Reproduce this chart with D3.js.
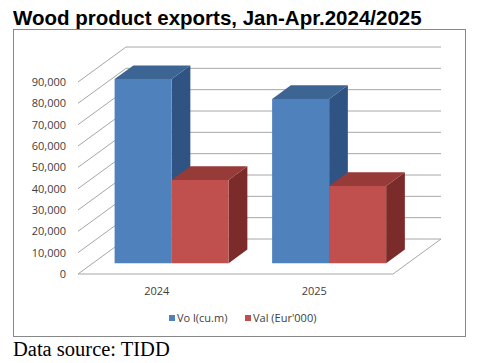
<!DOCTYPE html>
<html>
<head>
<meta charset="utf-8">
<script src="https://cdn.jsdelivr.net/npm/d3@7"></script>
<style>
  body { margin: 0; background: #fff; }
  svg { display: block; }
</style>
</head>
<body>
<div id="chart"></div>
<script>
const years = ['2024', '2025'];
const seriesNames = ['Vo l(cu.m)', "Val (Eur'000)"];
const volume = [86300, 77000];
const value = [39000, 36200];
const yTicks = [0, 10000, 20000, 30000, 40000, 50000, 60000, 70000, 80000, 90000];

const size = { width: 478, height: 363 };

// front plane of the floor, and the depth offset of the back wall
const plot = { left: 78, right: 393, top: 82, bottom: 274 };
const depth = { dx: 48, dy: -35 };
const barZ = [0.31, 0.70];

const colors = [
    { front: '#4f81bd', top: '#3d6594', side: '#2f5383' },
    { front: '#c0504d', top: '#973b39', side: '#7b2c2a' }
];

const svg = d3.select('#chart')
    .append('svg')
    .attr('width', size.width)
    .attr('height', size.height);

svg.append('text')
    .attr('x', 13)
    .attr('y', 25)
    .style('font-family', '"Liberation Sans", Arial, sans-serif')
    .style('font-weight', 'bold')
    .style('font-size', '20.5px')
    .attr('fill', '#000')
    .text('Wood product exports, Jan-Apr.2024/2025');

svg.append('rect')
    .attr('x', 13.5)
    .attr('y', 29.5)
    .attr('width', 452)
    .attr('height', 307)
    .attr('fill', '#fff')
    .attr('stroke', '#888')
    .attr('stroke-width', 1);

const x = d3.scaleBand()
    .domain(years)
    .range([plot.left, plot.right])
    .paddingInner(0.276)
    .paddingOuter(0.138);

const xSeries = d3.scaleBand()
    .domain(d3.range(seriesNames.length))
    .range([0, x.bandwidth()]);

const y = d3.scaleLinear()
    .domain([0, 90000])
    .range([plot.bottom, plot.top]);

// project (screen x in front plane, value, depth 0..1) to screen
const proj = (sx, v, z) => [sx + z * depth.dx, y(v) + z * depth.dy];

const grid = svg.append('g')
    .attr('stroke', '#a6a6a6')
    .attr('stroke-width', 1)
    .attr('fill', 'none');

const line = d3.line();

yTicks.forEach(t => {
    grid.append('path')
        .attr('d', line([proj(plot.left, t, 0), proj(plot.left, t, 1), proj(plot.right, t, 1)]));
});

// floor
grid.append('path')
    .attr('d', line([proj(plot.left, 0, 0), proj(plot.right, 0, 0), proj(plot.right, 0, 1)]));

// y axis labels
svg.append('g')
    .selectAll('text')
    .data(yTicks)
    .join('text')
    .attr('x', 66)
    .attr('y', d => y(d) + 4)
    .attr('text-anchor', 'end')
    .style('font-family', '"Open Sans", sans-serif')
    .style('font-size', '11px')
    .attr('fill', '#404040')
    .text(d => d3.format(',')(d));

// bars
const barData = [];
years.forEach((yr, i) => {
    [volume[i], value[i]].forEach((v, s) => {
        barData.push({ year: yr, series: s, v: v });
    });
});

const bars = svg.append('g')
    .selectAll('g')
    .data(barData)
    .join('g');

bars.each(function(d) {
    const g = d3.select(this);
    const x0 = x(d.year) + xSeries(d.series);
    const x1 = x0 + xSeries.bandwidth();
    const z0 = barZ[0], z1 = barZ[1];
    const c = colors[d.series];
    const poly = pts => 'M' + pts.map(p => p.join(',')).join('L') + 'Z';

    g.append('path')
        .attr('d', poly([proj(x1, 0, z0), proj(x1, 0, z1), proj(x1, d.v, z1), proj(x1, d.v, z0)]))
        .attr('fill', c.side);
    g.append('path')
        .attr('d', poly([proj(x0, d.v, z0), proj(x1, d.v, z0), proj(x1, d.v, z1), proj(x0, d.v, z1)]))
        .attr('fill', c.top);
    g.append('path')
        .attr('d', poly([proj(x0, 0, z0), proj(x1, 0, z0), proj(x1, d.v, z0), proj(x0, d.v, z0)]))
        .attr('fill', c.front);
});

// category labels
svg.append('g')
    .selectAll('text')
    .data(years)
    .join('text')
    .attr('x', d => x(d) + x.bandwidth() / 2)
    .attr('y', 295)
    .attr('text-anchor', 'middle')
    .style('font-family', '"Open Sans", sans-serif')
    .style('font-size', '11px')
    .attr('fill', '#404040')
    .text(d => d);

// legend
const legendPos = [169, 245];
const legend = svg.append('g')
    .selectAll('g')
    .data(seriesNames)
    .join('g')
    .attr('transform', (d, i) => `translate(${legendPos[i]}, 319)`);

legend.append('rect')
    .attr('x', 0)
    .attr('y', -4)
    .attr('width', 6)
    .attr('height', 6)
    .attr('fill', (d, i) => colors[i].front);

legend.append('text')
    .attr('x', 8)
    .attr('y', 3)
    .style('font-family', '"Open Sans", sans-serif')
    .style('font-size', '11px')
    .attr('fill', '#404040')
    .text(d => d);

svg.append('text')
    .attr('x', 13)
    .attr('y', 356)
    .style('font-family', '"Liberation Serif", "Times New Roman", serif')
    .style('font-size', '20.5px')
    .attr('fill', '#000')
    .text('Data source: TIDD');
</script>
</body>
</html>
